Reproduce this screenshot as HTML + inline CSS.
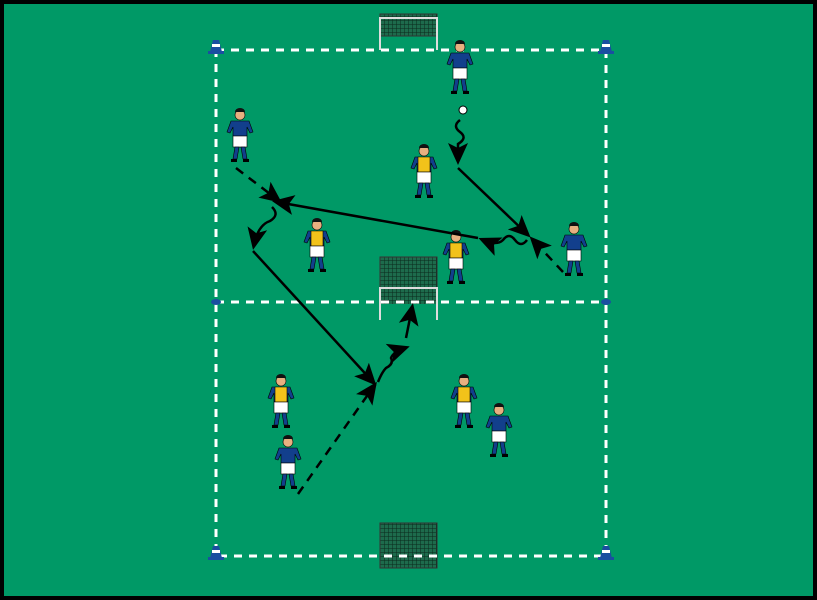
<!DOCTYPE html>
<html><head><style>html,body{margin:0;padding:0;background:#000}svg{display:block}</style></head><body>
<svg width="817" height="600" viewBox="0 0 817 600" xmlns="http://www.w3.org/2000/svg">
<defs>
<marker id="ahb" markerWidth="22" markerHeight="22" refX="17" refY="11" orient="auto" markerUnits="userSpaceOnUse" viewBox="0 0 22 22"><path d="M0,1 L22,11 L0,21 L5,11 z" fill="#000"/></marker>
<pattern id="net" width="4" height="4" patternUnits="userSpaceOnUse"><rect width="4" height="4" fill="#1d6b4c"/><path d="M0,0H4M0,0V4" stroke="#0a2a1c" stroke-width="1" fill="none"/></pattern>
<g id="blue">
<circle cx="0" cy="5" r="5" fill="#e8b080" stroke="#000" stroke-width="0.6"/>
<path d="M-5,2 a5,4 0 0 1 10,0 z" fill="#111"/>
<path d="M-9,11 L9,11 L13,22 L10,23 L7,17 L7,26 L-7,26 L-7,17 L-10,23 L-13,22 z" fill="#123f8c" stroke="#000" stroke-width="0.6"/>
<rect x="-7" y="26" width="14" height="11" fill="#fff" stroke="#000" stroke-width="0.6"/>
<path d="M-5,37 L-7,49 L-3,49 L-1,37 z M1,37 L3,49 L7,49 L5,37 z" fill="#123f8c" stroke="#000" stroke-width="0.6"/>
<path d="M-9,49 h6 v3 h-6 z M3,49 h6 v3 h-6 z" fill="#000"/>
</g>
<g id="yellow">
<circle cx="0" cy="5" r="5" fill="#e8b080" stroke="#000" stroke-width="0.6"/>
<path d="M-5,2 a5,4 0 0 1 10,0 z" fill="#111"/>
<path d="M-9,11 L9,11 L13,22 L10,23 L7,17 L7,26 L-7,26 L-7,17 L-10,23 L-13,22 z" fill="#123f8c" stroke="#000" stroke-width="0.6"/>
<path d="M-6,11 L6,11 L6,26 L-6,26 z" fill="#f2c21a" stroke="#000" stroke-width="0.6"/>
<rect x="-7" y="26" width="14" height="11" fill="#fff" stroke="#000" stroke-width="0.6"/>
<path d="M-5,37 L-7,49 L-3,49 L-1,37 z M1,37 L3,49 L7,49 L5,37 z" fill="#123f8c" stroke="#000" stroke-width="0.6"/>
<path d="M-9,49 h6 v3 h-6 z M3,49 h6 v3 h-6 z" fill="#000"/>
</g>
<g id="cone"><path d="M-6,6 L-3,-6 L3,-6 L6,6 z" fill="#1a4fa0"/><rect x="-4" y="-2" width="8" height="3" fill="#fff"/><rect x="-8" y="5" width="16" height="3" fill="#1a4fa0"/></g>
</defs>
<rect x="0" y="0" width="817" height="600" fill="#000"/>
<rect x="4" y="4" width="809" height="592" fill="#009966"/>
<rect x="380" y="14" width="57" height="22" fill="url(#net)" stroke="#333"/>
<path d="M380,50 V18 H437 V50" fill="none" stroke="#ddd" stroke-width="2"/>
<rect x="380" y="257" width="57" height="40" fill="url(#net)" stroke="#333"/>
<rect x="380" y="288" width="57" height="16" fill="url(#net)"/>
<path d="M380,320 V288 H437 V320" fill="none" stroke="#ddd" stroke-width="2"/>
<rect x="380" y="523" width="57" height="45" fill="url(#net)" stroke="#333"/>
<rect x="216" y="50" width="390" height="506" fill="none" stroke="#fff" stroke-width="3" stroke-dasharray="8,7"/>
<line x1="216" y1="302" x2="606" y2="302" stroke="#fff" stroke-width="3" stroke-dasharray="8,7"/>
<use href="#cone" x="216" y="46"/><use href="#cone" x="606" y="46"/>
<use href="#cone" x="216" y="552"/><use href="#cone" x="606" y="552"/>
<ellipse cx="216" cy="302" rx="5" ry="3" fill="#1a4fa0"/><ellipse cx="606" cy="302" rx="5" ry="3" fill="#1a4fa0"/>
<use href="#blue" x="460" y="42"/>
<use href="#blue" x="240" y="110"/>
<use href="#blue" x="574" y="224"/>
<use href="#blue" x="288" y="437"/>
<use href="#blue" x="499" y="405"/>
<use href="#yellow" x="424" y="146"/>
<use href="#yellow" x="317" y="220"/>
<use href="#yellow" x="456" y="232"/>
<use href="#yellow" x="281" y="376"/>
<use href="#yellow" x="464" y="376"/>
<circle cx="463" cy="110" r="4" fill="#fff" stroke="#000"/>
<g fill="none" stroke="#000" stroke-width="2.5">
<path d="M460,120 q-8,6 0,12 q8,6 -2,12 L458,160" marker-end="url(#ahb)"/>
<path d="M458,168 L527,234" marker-end="url(#ahb)"/>
<path d="M527,240 q-6,8 -12,0 q-6,-8 -12,0 q-6,6 -20,0" marker-end="url(#ahb)"/>
<path d="M563,272 L533,240" stroke-dasharray="9,7" marker-end="url(#ahb)"/>
<path d="M478,238 L277,202" marker-end="url(#ahb)"/>
<path d="M236,168 L278,200" stroke-dasharray="9,7" marker-end="url(#ahb)"/>
<path d="M272,207 q8,8 -2,14 q-12,4 -16,24" marker-end="url(#ahb)"/>
<path d="M253,251 L373,382" marker-end="url(#ahb)"/>
<path d="M298,494 L374,386" stroke-dasharray="9,7" marker-end="url(#ahb)"/>
<path d="M378,382 q4,-10 8,-14 q8,-4 5,-10 q2,-6 14,-10" marker-end="url(#ahb)"/>
<path d="M406,338 L412,308" marker-end="url(#ahb)"/>
</g>
</svg>
</body></html>
